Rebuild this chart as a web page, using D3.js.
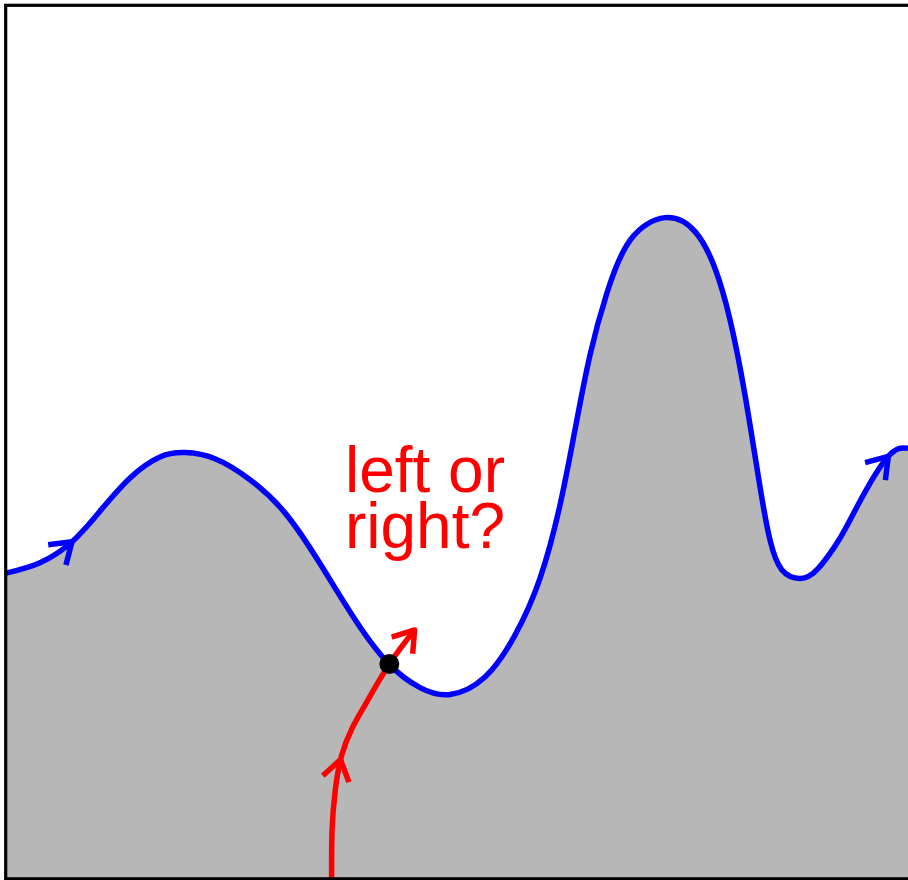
<!DOCTYPE html>
<html>
<head>
<meta charset="utf-8">
<script src="https://cdn.jsdelivr.net/npm/d3@7"></script>
<style>
  html, body { margin: 0; padding: 0; background: #fff; }
  svg { display: block; }
</style>
</head>
<body>
<svg width="908" height="880"></svg>
<script>
// boundary curve (blue) in frame units (0..10 each way)
const boundaryX = [0, 0.377, 0.732, 1.042, 1.375, 1.707, 1.984, 2.317, 2.705, 3.093, 3.481, 3.869, 4.246, 4.590,
    4.922, 5.310, 5.643, 5.920, 6.142, 6.308, 6.475, 6.663, 6.918, 7.306, 7.639, 7.860, 8.027, 8.193, 8.359,
    8.470, 8.600, 8.803, 9.000, 9.246, 9.435, 9.767, 10.0];
const boundaryY = [3.49, 3.61, 3.85, 4.20, 4.58, 4.82, 4.87, 4.80, 4.56, 4.18, 3.60, 2.96, 2.45, 2.18,
    2.10, 2.30, 2.78, 3.43, 4.27, 5.13, 5.99, 6.70, 7.30, 7.56, 7.40, 6.98, 6.39, 5.53, 4.48,
    3.87, 3.53, 3.43, 3.54, 3.89, 4.25, 4.81, 4.92];

// trajectory (red) coming up from the bottom and hitting the boundary
const pathX = [3.61, 3.615, 3.65, 3.72, 3.84, 3.98, 4.25, 4.53];
const pathY = [0, 0.55, 1.00, 1.40, 1.72, 1.98, 2.45, 2.84];

// where the direction arrows sit
const boundaryArrowsX = [0.73, 9.78];
const pathArrowY = 1.35;
const hitPoint = [4.25, 2.45];

const labelLines = ['left or', 'right?'];

const svg = d3.select('svg');
const width = +svg.attr('width');
const height = +svg.attr('height');

const x = d3.scaleLinear().domain([0, 10]).range([6, 908]);
const y = d3.scaleLinear().domain([0, 10]).range([878, 4.5]);

const boundary = boundaryX.map((d, i) => [d, boundaryY[i]]);
const path = pathX.map((d, i) => [d, pathY[i]]);

// shaded region under the boundary
const area = d3.area()
    .x(d => x(d[0]))
    .y0(y(0))
    .y1(d => y(d[1]))
    .curve(d3.curveNatural);

svg.append('path')
    .datum(boundary)
    .attr('d', area)
    .attr('fill', '#b7b7b7');

const line = d3.line()
    .x(d => x(d[0]))
    .y(d => y(d[1]))
    .curve(d3.curveNatural);

const blue = svg.append('path')
    .datum(boundary)
    .attr('d', line)
    .attr('fill', 'none')
    .attr('stroke', '#0000ff')
    .attr('stroke-width', 5.5);

const red = svg.append('path')
    .datum(path)
    .attr('d', line)
    .attr('fill', 'none')
    .attr('stroke', '#ff0000')
    .attr('stroke-width', 5.5);

// arrow head: tip at (px,py), travelling at angle a
function arrowHead(px, py, a, color, len) {
    const spread = 34 * Math.PI / 180;
    const b1 = a + Math.PI - spread, b2 = a + Math.PI + spread;
    const p = d3.path();
    p.moveTo(px + len * Math.cos(b1), py + len * Math.sin(b1));
    p.lineTo(px, py);
    p.lineTo(px + len * Math.cos(b2), py + len * Math.sin(b2));
    svg.append('path')
        .attr('d', p.toString())
        .attr('fill', 'none')
        .attr('stroke', color)
        .attr('stroke-width', 5.5)
        .attr('stroke-linejoin', 'round');
}

function findLength(node, test) {
    const total = node.getTotalLength();
    for (let l = 0; l <= total; l += 0.5) {
        if (test(node.getPointAtLength(l))) return l;
    }
    return total;
}

function arrowOnPath(node, l, color) {
    const p = node.getPointAtLength(l);
    const q = node.getPointAtLength(Math.max(0, l - 2));
    arrowHead(p.x, p.y, Math.atan2(p.y - q.y, p.x - q.x), color, 24);
}

const blueNode = blue.node();
boundaryArrowsX.forEach(d => {
    arrowOnPath(blueNode, findLength(blueNode, p => p.x >= x(d)), '#0000ff');
});

const redNode = red.node();
arrowOnPath(redNode, findLength(redNode, p => p.y <= y(pathArrowY)), '#ff0000');
arrowOnPath(redNode, redNode.getTotalLength(), '#ff0000');

// hitting point
svg.append('circle')
    .attr('cx', x(hitPoint[0]))
    .attr('cy', y(hitPoint[1]))
    .attr('r', 10)
    .attr('fill', '#000');

// question
svg.append('g')
    .selectAll('text')
    .data(labelLines)
    .enter()
    .append('text')
    .attr('x', x(4.645))
    .attr('y', (d, i) => 492 + i * 56)
    .attr('text-anchor', 'middle')
    .attr('font-family', '"Liberation Sans", Arial, sans-serif')
    .attr('font-size', 64)
    .attr('fill', '#ff0000')
    .text(d => d);

// frame (right side falls outside the picture)
svg.append('rect')
    .attr('x', x(0) - 0.3)
    .attr('y', y(10) + 0.8)
    .attr('width', x(10) + 4 - x(0))
    .attr('height', y(0) - y(10))
    .attr('fill', 'none')
    .attr('stroke', '#000')
    .attr('stroke-width', 3.2);
</script>
</body>
</html>
